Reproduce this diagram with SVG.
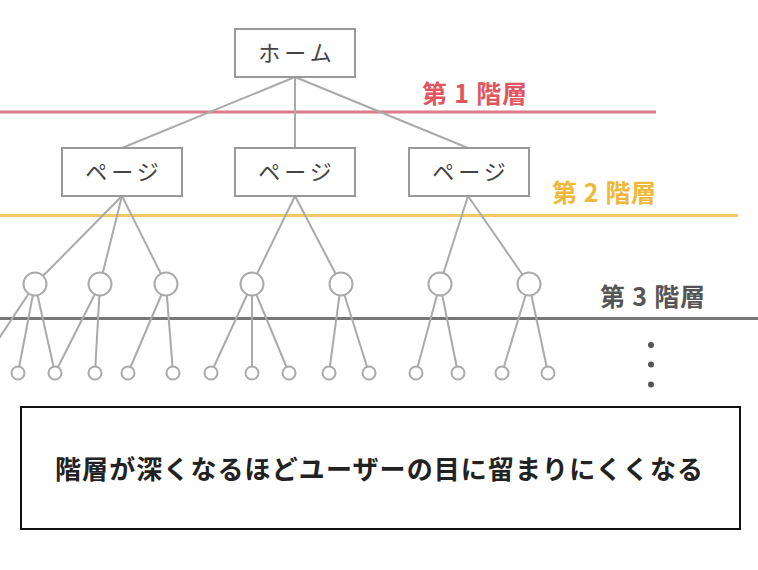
<svg xmlns="http://www.w3.org/2000/svg" width="758" height="570" viewBox="0 0 758 570">
<style>
.box{fill:#fff;stroke:#999;stroke-width:2}
.nt{font-family:"Noto Sans CJK JP","Noto Sans",sans-serif;font-size:22px;fill:#444;text-anchor:middle;letter-spacing:4px}
.ln{stroke:#aaa;stroke-width:2;fill:none}
.c{fill:#fff;stroke:#aaa;stroke-width:2}
.lbl{font-family:"Noto Sans CJK JP","Noto Sans",sans-serif;font-size:25px;font-weight:bold}
</style>
<rect width="758" height="570" fill="#fff"/>
<g id="levels">
<line x1="0" y1="112" x2="656" y2="112" stroke="#e07a88" stroke-width="3"/>
<line x1="0" y1="215.5" x2="738" y2="215.5" stroke="#f0ca6a" stroke-width="3"/>
<line x1="0" y1="318.5" x2="758" y2="318.5" stroke="#777" stroke-width="3"/>
<text class="lbl" x="422" y="103" fill="#e05560" textLength="105" lengthAdjust="spacing">第 1 階層</text>
<text class="lbl" x="552" y="202" fill="#f0b83a" textLength="104" lengthAdjust="spacing">第 2 階層</text>
<text class="lbl" x="600" y="306" fill="#555" textLength="105" lengthAdjust="spacing">第 3 階層</text>
</g>
<g id="connectors" class="ln">
<line x1="295" y1="77" x2="122" y2="148"/>
<line x1="295" y1="77" x2="295" y2="148"/>
<line x1="295" y1="77" x2="468" y2="148"/>
<line x1="122" y1="196" x2="35" y2="284"/>
<line x1="122" y1="196" x2="100" y2="284"/>
<line x1="122" y1="196" x2="166" y2="284"/>
<line x1="295" y1="196" x2="252" y2="284"/>
<line x1="295" y1="196" x2="341" y2="284"/>
<line x1="468" y1="196" x2="440" y2="284"/>
<line x1="468" y1="196" x2="529" y2="284"/>
<line x1="35" y1="284" x2="-10" y2="352"/>
<line x1="35" y1="284" x2="18" y2="373"/>
<line x1="35" y1="284" x2="55" y2="373"/>
<line x1="100" y1="284" x2="55" y2="373"/>
<line x1="100" y1="284" x2="95" y2="373"/>
<line x1="166" y1="284" x2="128" y2="373"/>
<line x1="166" y1="284" x2="173" y2="373"/>
<line x1="252" y1="284" x2="211" y2="373"/>
<line x1="252" y1="284" x2="252" y2="373"/>
<line x1="252" y1="284" x2="289" y2="373"/>
<line x1="341" y1="284" x2="329" y2="373"/>
<line x1="341" y1="284" x2="369" y2="373"/>
<line x1="440" y1="284" x2="416" y2="373"/>
<line x1="440" y1="284" x2="458" y2="373"/>
<line x1="529" y1="284" x2="502" y2="373"/>
<line x1="529" y1="284" x2="548" y2="373"/>
</g>
<g id="home"><rect class="box" x="235" y="29" width="120" height="48"/><text class="nt" x="297" y="61">ホーム</text></g>
<g id="page1"><rect class="box" x="62" y="148" width="120" height="48"/><text class="nt" x="124" y="180">ページ</text></g>
<g id="page2"><rect class="box" x="235" y="148" width="120" height="48"/><text class="nt" x="297" y="180">ページ</text></g>
<g id="page3"><rect class="box" x="409" y="148" width="120" height="48"/><text class="nt" x="471" y="180">ページ</text></g>
<g id="level3">
<circle class="c" cx="35" cy="284" r="11.5"/>
<circle class="c" cx="100" cy="284" r="11.5"/>
<circle class="c" cx="166" cy="284" r="11.5"/>
<circle class="c" cx="252" cy="284" r="11.5"/>
<circle class="c" cx="341" cy="284" r="11.5"/>
<circle class="c" cx="440" cy="284" r="11.5"/>
<circle class="c" cx="529" cy="284" r="11.5"/>
</g>
<g id="level4">
<circle class="c" cx="18" cy="373" r="6.5"/>
<circle class="c" cx="55" cy="373" r="6.5"/>
<circle class="c" cx="95" cy="373" r="6.5"/>
<circle class="c" cx="128" cy="373" r="6.5"/>
<circle class="c" cx="173" cy="373" r="6.5"/>
<circle class="c" cx="211" cy="373" r="6.5"/>
<circle class="c" cx="252" cy="373" r="6.5"/>
<circle class="c" cx="289" cy="373" r="6.5"/>
<circle class="c" cx="329" cy="373" r="6.5"/>
<circle class="c" cx="369" cy="373" r="6.5"/>
<circle class="c" cx="416" cy="373" r="6.5"/>
<circle class="c" cx="458" cy="373" r="6.5"/>
<circle class="c" cx="502" cy="373" r="6.5"/>
<circle class="c" cx="548" cy="373" r="6.5"/>
</g>
<g id="dots" fill="#555">
<circle cx="651" cy="345" r="3"/>
<circle cx="651" cy="364.5" r="3"/>
<circle cx="651" cy="384.5" r="3"/>
</g>
<g id="note">
<rect x="21" y="407" width="719" height="122" fill="#fff" stroke="#111" stroke-width="2"/>
<text x="55" y="479" font-family="'Noto Sans CJK JP','Noto Sans',sans-serif" font-size="26" font-weight="bold" fill="#222" textLength="648" lengthAdjust="spacing">階層が深くなるほどユーザーの目に留まりにくくなる</text>
</g>
</svg>
